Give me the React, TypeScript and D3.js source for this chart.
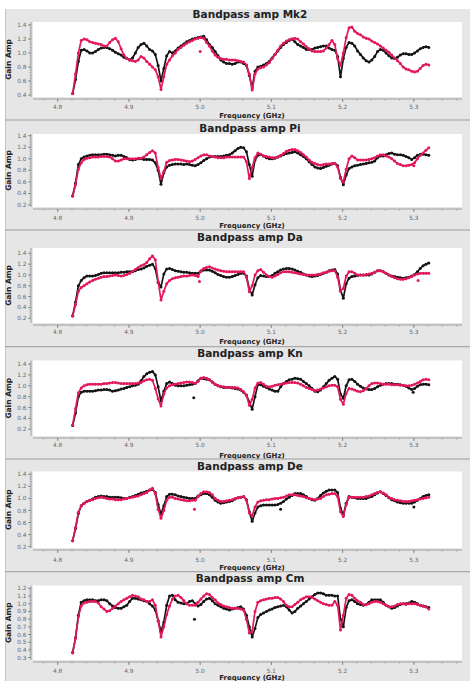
import React from "react";
import * as d3 from "d3";

// Frequency grid (GHz): channels sampled every 4 MHz from 4.821 GHz
const FREQ_START = 4.821;
const FREQ_STEP = 0.004;
const N_CHAN = 126;
const freqs: number[] = d3.range(N_CHAN).map((k) => +(FREQ_START + k * FREQ_STEP).toFixed(3));

const xMajorTicks = [4.8, 4.9, 5.0, 5.1, 5.2, 5.3];

const antennas = ["Mk2", "Pi", "Da", "Kn", "De", "Cm"];

const mk2Black = [
  0.42, 0.62, 0.88, 1.04, 1.05, 1.03, 1.0, 1.0, 1.02, 1.05,
  1.07, 1.08, 1.08, 1.06, 1.04, 1.01, 0.99, 0.97, 0.94, 0.92,
  0.9, 0.93, 1.0, 1.08, 1.12, 1.14, 1.1, 1.05, 1.03, 0.98,
  0.82, 0.6, 0.78, 0.96, 1.02, 1.0, 1.03, 1.07, 1.1, 1.13,
  1.16, 1.18, 1.2, 1.21, 1.22, 1.23, 1.24, 1.19, 1.12, 1.08,
  1.02, 0.96, 0.9, 0.87, 0.85, 0.85, 0.84, 0.85, 0.87, 0.87,
  0.85, 0.82, 0.68, 0.5, 0.74, 0.8, 0.81, 0.83, 0.85, 0.88,
  0.93, 0.98, 1.03, 1.08, 1.12, 1.15, 1.18, 1.2, 1.16, 1.12,
  1.1, 1.08, 1.05, 1.05, 1.05, 1.07, 1.08, 1.09, 1.1, 1.1,
  1.07, 1.05, 1.04, 0.95, 0.66, 0.92, 1.08, 1.15, 1.14, 1.1,
  1.03, 0.98, 0.93, 0.89, 0.87, 0.9, 0.95, 1.02, 1.05, 1.04,
  1.0, 0.96, 0.93, 0.92, 0.94, 0.97, 0.99, 0.99, 0.98, 0.98,
  1.0, 1.03, 1.06, 1.08, 1.09, 1.08,
];
const mk2Pink = [
  0.42, 0.7, 1.0, 1.18, 1.2, 1.19, 1.16, 1.15, 1.14, 1.13,
  1.12, 1.1, 1.1, 1.15, 1.19, 1.21, 1.16, 1.06, 0.97, 0.92,
  0.9, 0.89, 0.88, 0.9, 0.95, 0.93, 0.88, 0.84, 0.8, 0.76,
  0.66, 0.48, 0.66, 0.84, 0.9, 0.96, 1.0, 1.05, 1.08, 1.11,
  1.14, 1.16, 1.18, 1.2, 1.21, 1.22, 1.21, 1.15, 1.1, 1.03,
  0.97, 0.94, 0.92, 0.91, 0.91, 0.9, 0.9, 0.9, 0.89, 0.88,
  0.87, 0.83, 0.7, 0.47, 0.7, 0.77, 0.79, 0.8, 0.83, 0.86,
  0.92, 0.98, 1.04, 1.1, 1.14, 1.17, 1.19, 1.2, 1.21, 1.2,
  1.16, 1.13, 1.09, 1.06, 1.03, 1.02, 1.02, 1.02, 1.03, 1.07,
  1.12, 1.18, 1.12, 0.92, 0.82, 1.0, 1.22, 1.36, 1.37, 1.31,
  1.28, 1.26, 1.23, 1.21, 1.2, 1.17, 1.15, 1.13, 1.1, 1.07,
  1.04, 1.01, 0.97, 0.93, 0.89, 0.85, 0.8, 0.77, 0.76, 0.74,
  0.73, 0.74, 0.78, 0.82, 0.84, 0.83,
];
const piBlack = [
  0.36, 0.58, 0.9, 1.0, 1.03, 1.05, 1.06, 1.07, 1.07, 1.07,
  1.07, 1.08, 1.08, 1.07, 1.06, 1.05, 1.06, 1.06, 1.04, 1.02,
  0.99, 0.98, 0.99, 1.0, 1.0, 0.99, 0.99, 0.99, 0.98, 0.93,
  0.8, 0.56, 0.76, 0.86, 0.89, 0.9, 0.91, 0.91, 0.91, 0.9,
  0.91, 0.9, 0.89, 0.88, 0.9, 0.93, 0.97, 1.0, 1.03, 1.04,
  1.04, 1.04, 1.04, 1.05, 1.06, 1.07, 1.1, 1.14, 1.18, 1.2,
  1.19, 1.12, 0.9, 0.7, 0.98, 1.06, 1.07, 1.05, 1.02, 1.0,
  1.0, 1.01, 1.03, 1.05, 1.07, 1.09, 1.1, 1.11, 1.12, 1.1,
  1.07, 1.04, 1.0, 0.95, 0.9, 0.86, 0.84, 0.83, 0.85, 0.87,
  0.89, 0.91, 0.92, 0.88, 0.68, 0.55, 0.72, 0.83, 0.86, 0.88,
  0.89, 0.9, 0.91, 0.92, 0.93, 0.94, 0.96, 1.02, 1.05, 1.05,
  1.07, 1.09, 1.1, 1.08, 1.07, 1.07, 1.06, 1.04, 1.02, 0.99,
  1.02, 1.06, 1.08, 1.08, 1.07, 1.06,
];
const piPink = [
  0.35, 0.55, 0.82, 0.93, 0.99, 1.01, 1.02, 1.03, 1.03, 1.03,
  1.04, 1.04, 1.04, 1.03, 1.0, 0.96, 0.96, 0.98, 1.0, 1.0,
  1.0, 1.0, 1.0, 1.01, 1.01, 1.03, 1.07, 1.11, 1.14, 1.1,
  0.85, 0.66, 0.78, 0.94, 0.97, 0.98, 0.99, 0.99, 0.98, 0.97,
  0.96, 0.95, 0.96, 0.99, 1.02, 1.05, 1.07, 1.07, 1.05, 1.04,
  1.03, 1.02, 1.02, 1.02, 1.03, 1.03, 1.03, 1.03, 1.03, 1.03,
  1.03, 0.95, 0.66, 0.85, 1.02, 1.1, 1.08, 1.05, 1.04, 1.03,
  1.02, 1.02, 1.03, 1.06, 1.09, 1.13, 1.15, 1.16, 1.16, 1.14,
  1.11, 1.07, 1.03, 0.98, 0.94, 0.92, 0.9, 0.89, 0.9, 0.91,
  0.91, 0.92, 0.92, 0.86, 0.66, 0.6, 0.82, 1.0, 1.05, 1.02,
  0.98, 0.98, 0.98, 0.98, 0.99, 1.0, 1.02, 1.05, 1.07, 1.07,
  1.05, 1.03, 1.0, 0.96, 0.92, 0.9, 0.88, 0.88, 0.89, 0.9,
  0.93, 1.0, 1.06, 1.1, 1.15, 1.19,
];
const daBlack = [
  0.25, 0.5, 0.8, 0.9, 0.95, 0.98, 0.98, 0.98, 0.99, 1.01,
  1.03, 1.04, 1.04, 1.04, 1.04, 1.04, 1.04, 1.05, 1.05, 1.06,
  1.06, 1.06, 1.08, 1.1, 1.11, 1.13, 1.16, 1.18, 1.2, 1.12,
  0.86, 0.78, 1.02, 1.11, 1.12, 1.1, 1.08, 1.07, 1.06, 1.05,
  1.05, 1.04, 1.03, 1.03, 1.03, 1.07, 1.09, 1.09, 1.09, 1.07,
  1.04, 1.01, 0.99, 0.97, 0.96, 0.96, 0.97, 0.99, 1.01, 1.03,
  1.03, 0.98, 0.74, 0.63, 0.82, 0.95, 0.99, 0.98, 0.97, 0.97,
  0.99, 1.03, 1.06, 1.09, 1.11, 1.12, 1.12, 1.11, 1.09, 1.07,
  1.05, 1.02, 1.0, 0.98, 0.97, 0.98, 0.99, 1.01, 1.03, 1.05,
  1.08, 1.09, 1.1, 1.02, 0.72, 0.57, 0.84, 0.94, 0.97, 0.98,
  0.99, 1.0, 1.0, 1.0, 1.0, 1.02, 1.05, 1.08, 1.08, 1.06,
  1.03, 1.0, 0.98, 0.97, 0.96, 0.95, 0.94, 0.95, 0.96, 0.98,
  1.01, 1.06, 1.12, 1.17, 1.2, 1.22,
];
const daPink = [
  0.24, 0.45, 0.7, 0.77, 0.8, 0.84, 0.87, 0.9, 0.92, 0.94,
  0.96, 0.97, 0.97, 0.98, 0.99, 1.0, 0.99, 0.98, 0.99, 1.01,
  1.03, 1.07, 1.1, 1.14, 1.17, 1.19, 1.23, 1.3, 1.35, 1.28,
  0.88, 0.54, 0.7, 0.84, 0.9, 0.93, 0.95, 0.96, 0.97, 0.98,
  0.98, 0.99, 1.0, 0.99, 0.97, 1.08, 1.12, 1.14, 1.15, 1.13,
  1.11, 1.09, 1.08, 1.07, 1.06, 1.06, 1.06, 1.06, 1.06, 1.06,
  1.06, 0.96, 0.69, 0.8, 1.0, 1.08, 1.1, 1.05, 1.0, 0.97,
  0.96, 0.98, 1.01, 1.04, 1.06, 1.06, 1.06, 1.05, 1.04, 1.03,
  1.02, 1.01, 1.0, 1.0, 1.0, 1.0, 1.01, 1.02, 1.04, 1.05,
  1.07, 1.08, 1.08, 0.96, 0.7, 0.75, 0.98, 1.06, 1.06, 1.03,
  1.0, 1.0, 1.0, 1.01, 1.02, 1.03, 1.05, 1.08, 1.08, 1.06,
  1.03, 1.0, 0.97, 0.95, 0.93, 0.92, 0.92, 0.93, 0.95, 0.97,
  1.0, 1.02, 1.03, 1.03, 1.03, 1.03,
];
const knBlack = [
  0.27, 0.5, 0.8, 0.88, 0.9, 0.9, 0.9, 0.9, 0.91, 0.92,
  0.92, 0.93, 0.93, 0.92, 0.9, 0.91, 0.92, 0.94, 0.95, 0.97,
  0.98, 1.0, 1.01, 1.03, 1.09, 1.17, 1.22, 1.25, 1.26, 1.2,
  0.98, 0.72, 0.9, 1.04, 1.07, 1.04, 1.01, 1.0, 1.0, 1.0,
  1.01, 1.02, 1.03, 1.04, 1.09, 1.14, 1.13, 1.12, 1.11, 1.07,
  1.03, 1.0, 0.98, 0.97, 0.97, 0.97, 0.96, 0.95, 0.94, 0.92,
  0.88, 0.83, 0.7, 0.57, 0.8, 1.02, 1.02, 0.99, 0.97, 0.94,
  0.92, 0.9, 0.9, 0.98, 1.04, 1.08, 1.11, 1.12, 1.14, 1.13,
  1.12, 1.08, 1.04, 1.0, 0.95, 0.9, 0.89, 0.92, 0.98, 1.04,
  1.1, 1.14, 1.17, 1.12, 0.85, 0.77, 1.0, 1.11, 1.12, 1.08,
  1.03, 0.99, 0.96, 0.94, 0.93, 0.93, 0.95, 0.98, 1.01, 1.03,
  1.04, 1.04, 1.04, 1.03, 1.03, 1.02, 1.01, 0.99, 0.96, 0.93,
  0.95, 0.99, 1.02, 1.03, 1.03, 1.02,
];
const knPink = [
  0.28, 0.58, 0.87, 0.96, 1.0, 1.02, 1.03, 1.03, 1.03, 1.03,
  1.03, 1.04, 1.04, 1.05, 1.06, 1.06, 1.05, 1.04, 1.04, 1.04,
  1.04, 1.04, 1.04, 1.05, 1.06, 1.09, 1.11, 1.12, 1.1, 0.95,
  0.76, 0.63, 0.85, 0.96, 1.0, 1.02, 1.03, 1.04, 1.05, 1.06,
  1.07, 1.07, 1.06, 1.04, 1.08, 1.14, 1.15, 1.14, 1.11, 1.07,
  1.03, 1.0, 0.99, 0.98, 0.97, 0.97, 0.97, 0.97, 0.96, 0.93,
  0.89, 0.82, 0.64, 0.75, 0.96, 1.05, 1.06, 1.03, 0.99, 0.98,
  0.99, 1.01, 1.02, 1.03, 1.04, 1.05, 1.06, 1.06, 1.06, 1.05,
  1.03, 1.0, 0.97, 0.95, 0.93, 0.91, 0.92, 0.94, 0.96, 0.98,
  1.0, 1.01, 1.01, 0.98, 0.75, 0.66, 0.86, 0.95, 0.94, 0.92,
  0.9, 0.89, 0.91, 0.95, 1.0, 1.04, 1.05, 1.05, 1.04, 1.03,
  1.03, 1.03, 1.02, 1.02, 1.02, 1.01, 1.01, 1.0, 1.0, 1.01,
  1.03, 1.05, 1.08, 1.11, 1.12, 1.11,
];
const deBlack = [
  0.3, 0.5, 0.75, 0.88, 0.92, 0.95, 0.97, 0.99, 1.02, 1.03,
  1.04, 1.03, 1.03, 1.02, 1.02, 1.02, 1.02, 1.01, 1.0, 1.0,
  1.02, 1.03, 1.05, 1.07, 1.09, 1.1, 1.12, 1.14, 1.15, 1.1,
  0.9, 0.74, 0.88, 1.03, 1.07, 1.07, 1.06, 1.04, 1.03, 1.02,
  1.01, 1.0, 1.0, 1.0, 1.04, 1.06, 1.08, 1.08, 1.06, 1.02,
  0.97, 0.94, 0.92, 0.93, 0.94, 0.95, 0.96, 0.99, 1.01, 1.02,
  1.03, 0.98, 0.78, 0.62, 0.76, 0.86, 0.88, 0.89, 0.89, 0.89,
  0.89, 0.89, 0.9, 0.92, 0.95, 0.99, 1.02, 1.05, 1.08, 1.08,
  1.08, 1.06, 1.03, 1.0, 0.98, 0.97, 1.0, 1.05, 1.09, 1.12,
  1.14, 1.14, 1.14, 1.1, 0.84, 0.73, 0.92, 1.03, 1.02, 1.01,
  1.0, 1.0, 1.0, 1.0, 1.02, 1.03, 1.06, 1.09, 1.11, 1.08,
  1.05, 1.01, 0.98, 0.96, 0.94, 0.93, 0.92, 0.92, 0.92, 0.92,
  0.94, 0.97, 1.0, 1.03, 1.05, 1.06,
];
const dePink = [
  0.3, 0.52, 0.77, 0.88, 0.92, 0.95, 0.97, 0.98, 1.0, 1.01,
  1.02, 1.01, 1.0, 0.99, 0.99, 0.98, 0.98, 0.98, 0.99, 1.0,
  1.01, 1.02, 1.03, 1.04, 1.06, 1.08, 1.1, 1.14, 1.17, 1.08,
  0.82, 0.67, 0.8, 0.97, 1.02, 1.02, 1.0, 0.99, 0.98, 0.97,
  0.96, 0.96, 0.97, 0.97, 1.03, 1.08, 1.11, 1.11, 1.1, 1.06,
  1.0, 0.97, 0.95, 0.95, 0.96, 0.97, 0.98, 1.0, 1.01, 1.02,
  1.03, 0.97, 0.76, 0.71, 0.86, 0.94, 0.96, 0.97, 0.98, 0.98,
  0.99, 1.0, 1.0, 1.01, 1.02, 1.04, 1.06, 1.06, 1.06, 1.05,
  1.04, 1.03, 1.01, 1.0, 0.99, 0.98, 0.99, 1.0, 1.03, 1.06,
  1.07, 1.08, 1.08, 1.03, 0.78, 0.7, 0.9, 1.02, 1.02, 1.02,
  1.02, 1.02, 1.02, 1.03, 1.04, 1.06, 1.08, 1.1, 1.11, 1.09,
  1.06, 1.02, 1.0, 0.98, 0.97, 0.96, 0.95, 0.95, 0.95, 0.96,
  0.97, 0.98, 0.99, 1.0, 1.01, 1.02,
];
const cmBlack = [
  0.37, 0.56, 0.85, 1.02, 1.04, 1.05, 1.05, 1.05, 1.04, 1.04,
  1.05, 1.05, 1.04, 1.0, 0.97, 0.95, 0.94, 0.94, 0.96, 0.98,
  1.03, 1.07, 1.07, 1.06, 1.05, 1.04, 1.03, 1.0, 0.97, 0.92,
  0.78, 0.64, 0.76, 0.98, 1.1, 1.11, 1.05, 1.02, 1.01, 1.0,
  1.0, 1.03, 1.04, 1.0, 0.97, 0.99, 1.03, 1.06, 1.07, 1.04,
  1.0, 0.98, 0.96, 0.94, 0.93, 0.92, 0.93, 0.94, 0.95, 0.96,
  0.93, 0.85, 0.7, 0.57, 0.68, 0.82, 0.86, 0.88, 0.9, 0.92,
  0.93, 0.95, 0.96, 0.97, 0.98, 0.96, 0.92, 0.88, 0.9, 0.94,
  0.97, 1.0, 1.03, 1.06, 1.09, 1.12, 1.14, 1.14, 1.13, 1.11,
  1.11, 1.11, 1.1, 1.1, 0.8, 0.7, 0.95, 1.04, 1.05, 1.03,
  1.0, 0.99, 0.98, 0.99, 1.02, 1.05, 1.05, 1.05, 1.05, 1.02,
  0.98, 0.96, 0.94, 0.95, 0.97, 0.99, 1.0, 1.0, 1.01, 1.03,
  1.02, 1.0, 0.98, 0.97, 0.96, 0.95,
];
const cmPink = [
  0.36, 0.55, 0.83, 0.97, 1.01, 1.02, 1.03, 1.03, 1.03, 1.01,
  0.96, 0.93, 0.9, 0.91, 0.94, 0.97, 1.0, 1.03, 1.05, 1.07,
  1.09, 1.11, 1.1, 1.09, 1.06, 1.05, 1.03, 1.03, 1.05, 0.98,
  0.78, 0.57, 0.7, 0.86, 0.97, 1.06, 1.1, 1.11, 1.08, 1.04,
  1.0, 0.98, 0.98, 0.98, 1.02, 1.06, 1.1, 1.13, 1.12, 1.08,
  1.05, 1.01, 0.99, 0.97, 0.96, 0.95, 0.94, 0.94, 0.94, 0.93,
  0.92, 0.8, 0.62, 0.64, 0.9, 1.02, 1.04, 1.05, 1.06, 1.07,
  1.07, 1.08, 1.08, 1.06, 1.03, 0.98, 0.96, 0.96, 0.99, 1.02,
  1.05, 1.07, 1.09, 1.09, 1.08, 1.06, 1.04, 1.02, 1.0, 0.99,
  0.98, 0.98, 1.03, 0.98, 0.66, 0.85, 1.07, 1.12, 1.11, 1.07,
  1.04, 1.02, 0.99, 0.99, 1.0, 1.02, 1.03, 1.03, 1.02, 1.0,
  0.98, 0.96, 0.96, 0.97, 0.99, 1.0, 1.0, 0.99, 1.0, 1.0,
  1.0, 0.99, 0.98, 0.97, 0.96, 0.93,
];

// Stray single points: [frequency GHz, gain amp]
const mk2OutBlack: number[][] = [];
const mk2OutPink = [[5.0, 1.02]];
const piOutBlack: number[][] = [];
const piOutPink = [[5.3, 0.88]];
const daOutBlack: number[][] = [];
const daOutPink = [[4.999, 0.88], [5.306, 0.9]];
const knOutBlack = [[4.991, 0.78], [5.299, 0.88]];
const knOutPink: number[][] = [];
const deOutBlack = [[5.113, 0.82], [5.3, 0.86]];
const deOutPink = [[4.992, 0.82]];
const cmOutBlack = [[4.992, 0.8]];
const cmOutPink: number[][] = [];

const yTicksStd = [0.2, 0.4, 0.6, 0.8, 1.0, 1.2, 1.4];
const yTicksMk2 = [0.4, 0.6, 0.8, 1.0, 1.2, 1.4];
const yTicksCm = [0.3, 0.4, 0.5, 0.6, 0.7, 0.8, 0.9, 1.0, 1.1, 1.2];

const blackSeries = [mk2Black, piBlack, daBlack, knBlack, deBlack, cmBlack];
const pinkSeries = [mk2Pink, piPink, daPink, knPink, dePink, cmPink];
const blackOut = [mk2OutBlack, piOutBlack, daOutBlack, knOutBlack, deOutBlack, cmOutBlack];
const pinkOut = [mk2OutPink, piOutPink, daOutPink, knOutPink, deOutPink, cmOutPink];
const yTickSets = [yTicksMk2, yTicksStd, yTicksStd, yTicksStd, yTicksStd, yTicksCm];

// layout (measured per panel, px)
const W = 470;
const H = 681;
const PLOT_L = 33;
const PLOT_R = 462;
const TITLE_Y = [14, 127.7, 237.3, 352.7, 466, 577.7];
const PLOT_TOP = [22, 134, 248, 360.5, 471.5, 585.5];
const TOPTICK_Y = [25, 135.7, 253.3, 364, 474.3, 588.3];
const BOTTICK_Y = [95, 205, 318.3, 429.3, 546.7, 657.7];
const AXIS_Y = [99, 209, 325, 438, 550, 662];
const XLABEL_Y = [107, 218, 332, 445, 560, 671];
const FREQLABEL_Y = [115, 225, 341.7, 455, 567.7, 677];
const SEP_Y = [0, 120, 230, 346.7, 459, 571.7];

const BLACK = "#141414";
const PINK = "#e2185c";
const FONT = "DejaVu Sans, Verdana, sans-serif";

const xScale = d3.scaleLinear().domain([4.7653, 5.3676]).range([PLOT_L, PLOT_R]);
const xMinorTicks = d3.range(4.78, 5.37, 0.02).map((v) => +v.toFixed(2));

function Panel({ i }: { i: number }) {
  const c = TITLE_Y[i];
  const ticks = yTickSets[i];
  const yMin = ticks[0];
  const yMax = ticks[ticks.length - 1];
  const step = ticks[1] - ticks[0];
  const y = d3.scaleLinear().domain([yMin, yMax]).range([BOTTICK_Y[i], TOPTICK_Y[i]]);
  const minorY = d3.range(yMin, yMax + 1e-9, step / 5).map((v) => +v.toFixed(3));
  const axisY = AXIS_Y[i];
  const plotTop = PLOT_TOP[i];
  const plotBot = axisY - 2;
  const line = d3
    .line<number>()
    .x((_, k) => xScale(freqs[k]))
    .y((v) => y(v));
  const clipId = `clip-${i}`;
  const series = [
    { vals: blackSeries[i], out: blackOut[i], color: BLACK },
    { vals: pinkSeries[i], out: pinkOut[i], color: PINK },
  ];
  return (
    <g>
      {i > 0 && <line x1={5} x2={W} y1={SEP_Y[i]} y2={SEP_Y[i]} stroke="#9c9c9c" strokeWidth={1} />}
      <text x={250} y={c + 3.8} textAnchor="middle" fontFamily={FONT} fontWeight="bold" fontSize={10.5} fill="#222">
        {`Bandpass amp ${antennas[i]}`}
      </text>
      <rect x={PLOT_L} y={plotTop} width={PLOT_R - PLOT_L} height={plotBot - plotTop} fill="#ffffff" />
      <clipPath id={clipId}>
        <rect x={PLOT_L} y={plotTop} width={PLOT_R - PLOT_L} height={plotBot - plotTop} />
      </clipPath>
      <g clipPath={`url(#${clipId})`}>
        {series.map((s, si) => (
          <g key={si}>
            <path d={line(s.vals) || ""} fill="none" stroke={s.color} strokeWidth={1.7} strokeLinejoin="round" />
            {s.vals.map((v, k) => (
              <circle key={k} cx={xScale(freqs[k])} cy={y(v)} r={1.5} fill={s.color} />
            ))}
            {s.out.map((p, k) => (
              <circle key={`o${k}`} cx={xScale(p[0])} cy={y(p[1])} r={1.5} fill={s.color} />
            ))}
          </g>
        ))}
      </g>
      {/* y axis */}
      <line x1={31} x2={31} y1={plotTop} y2={plotBot} stroke="#8a8a8a" strokeWidth={0.8} />
      {minorY.map((v) => (
        <line key={`my${v}`} x1={29.5} x2={31} y1={y(v)} y2={y(v)} stroke="#8a8a8a" strokeWidth={0.6} />
      ))}
      {ticks.map((v) => (
        <g key={`y${v}`}>
          <line x1={28} x2={31} y1={y(v)} y2={y(v)} stroke="#777" strokeWidth={0.8} />
          <text x={26.5} y={y(v) + 2} textAnchor="end" fontFamily={FONT} fontSize={5.8} fill="#666">
            {v.toFixed(1)}
          </text>
        </g>
      ))}
      <text
        transform={`translate(${10.5},${(plotTop + plotBot) / 2}) rotate(-90)`}
        textAnchor="middle"
        fontFamily={FONT}
        fontWeight="bold"
        fontSize={7.5}
        fill="#222"
      >
        Gain Amp
      </text>
      {/* x axis */}
      <line x1={PLOT_L} x2={PLOT_R} y1={axisY} y2={axisY} stroke="#8a8a8a" strokeWidth={0.8} />
      {xMinorTicks.map((v) => (
        <line key={`mx${v}`} x1={xScale(v)} x2={xScale(v)} y1={axisY} y2={axisY + 1.5} stroke="#8a8a8a" strokeWidth={0.6} />
      ))}
      {xMajorTicks.map((v) => (
        <g key={`x${v}`}>
          <line x1={xScale(v)} x2={xScale(v)} y1={axisY} y2={axisY + 3} stroke="#777" strokeWidth={0.8} />
          <text x={xScale(v)} y={XLABEL_Y[i] + 2} textAnchor="middle" fontFamily={FONT} fontSize={5.8} fill="#666">
            {v.toFixed(1)}
          </text>
        </g>
      ))}
      <text x={252} y={FREQLABEL_Y[i] + 2.5} textAnchor="middle" fontFamily={FONT} fontWeight="bold" fontSize={7} fill="#222">
        Frequency (GHz)
      </text>
    </g>
  );
}

export default function App() {
  return (
    <svg
      width={W}
      height={H}
      viewBox={`0 0 ${W} ${H}`}
      style={{ position: "absolute", left: 0, top: 0, display: "block", background: "#fff" }}
    >
      <rect x={5} y={9} width={W - 5} height={H - 9} fill="#e6e6e6" />
      <line x1={5.5} x2={5.5} y1={9} y2={H} stroke="#c4c4c4" strokeWidth={1} />
      {antennas.map((_, i) => (
        <Panel key={i} i={i} />
      ))}
    </svg>
  );
}
